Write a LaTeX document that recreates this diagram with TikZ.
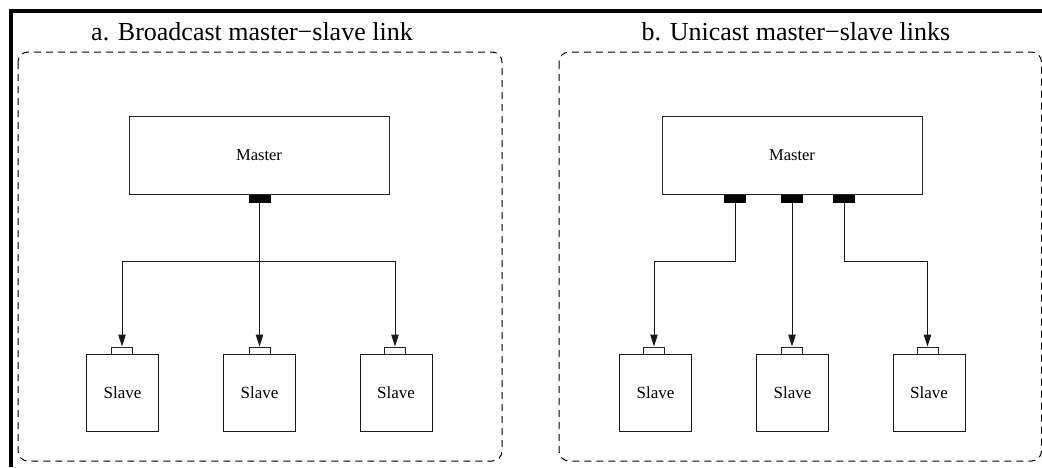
\documentclass[tikz,border=0pt]{standalone}
\usepackage{fontspec}
\setmainfont{Liberation Serif}
\usetikzlibrary{arrows.meta}
\tikzset{
  panel/.style={draw=black, line width=1pt, dash pattern=on 7pt off 5pt, rounded corners=10pt},
  titletext/.style={anchor=base, font=\fontsize{26}{28}\selectfont, inner sep=0pt},
  masterbox/.style={draw=black!85, line width=1pt, minimum width=260pt, minimum height=78pt, inner sep=0pt, font=\fontsize{16.5}{18}\selectfont},
  slavebox/.style={draw=black!90, line width=1pt, minimum width=72pt, minimum height=77pt, inner sep=0pt, font=\fontsize{17}{19}\selectfont},
  mport/.style={draw=black, fill=black, minimum width=21pt, minimum height=7pt, inner sep=0pt},
  sport/.style={draw=black!85, fill=white, line width=1pt, minimum width=21pt, minimum height=7pt, inner sep=0pt},
  link/.style={draw=black!90, line width=1pt},
  linkarr/.style={link, -{Triangle[length=12pt,width=7.5pt]}},
  frameline/.style={line width=4pt, black}
}
\begin{document}
\begin{tikzpicture}[x=1pt, y=-1pt]
\useasboundingbox (0,0) rectangle (1042,467);
% frame
\draw[frameline] (11,467) -- (11,11) -- (1042,11);
% panels
\draw[panel] (18,52) rectangle (502,461);
\draw[panel] (559,52) rectangle (1041.5,461);
% titles
\node[titletext] (ta) at (252,40) {a. Broadcast master−slave link};
\node[titletext] (tb) at (796,40) {b. Unicast master−slave links};
% panel a
\node[masterbox] (ma) at (259,155) {Master};
\node[mport] (mpa) at (259.5,198.5) {};
\node[slavebox] (sa1) at (122.5,392.5) {Slave};
\node[slavebox] (sa2) at (259.5,392.5) {Slave};
\node[slavebox] (sa3) at (396,392.5) {Slave};
\node[sport] (spa1) at (122,350.5) {};
\node[sport] (spa2) at (259.5,350.5) {};
\node[sport] (spa3) at (395,350.5) {};
\coordinate (ja) at (259.5,261);
\draw[linkarr] (mpa.south) -- (spa2.north);
\draw[linkarr] (ja) -| (spa1.north);
\draw[linkarr] (ja) -| (spa3.north);
% panel b
\node[masterbox] (mb) at (792,155) {Master};
\node[mport] (mpb1) at (735,199) {};
\node[mport] (mpb2) at (792,198.5) {};
\node[mport] (mpb3) at (844,199) {};
\node[slavebox] (sb1) at (655.5,392.5) {Slave};
\node[slavebox] (sb2) at (792.5,392.5) {Slave};
\node[slavebox] (sb3) at (929,392.5) {Slave};
\node[sport] (spb1) at (654,350.5) {};
\node[sport] (spb2) at (792,350.5) {};
\node[sport] (spb3) at (927.5,350.5) {};
\coordinate (jb) at (792,261);
\draw[linkarr] (mpb1.south) -- (mpb1.south |- jb) -| (spb1.north);
\draw[linkarr] (mpb2.south) -- (spb2.north);
\draw[linkarr] (mpb3.south) -- (mpb3.south |- jb) -| (spb3.north);
\end{tikzpicture}
\end{document}
